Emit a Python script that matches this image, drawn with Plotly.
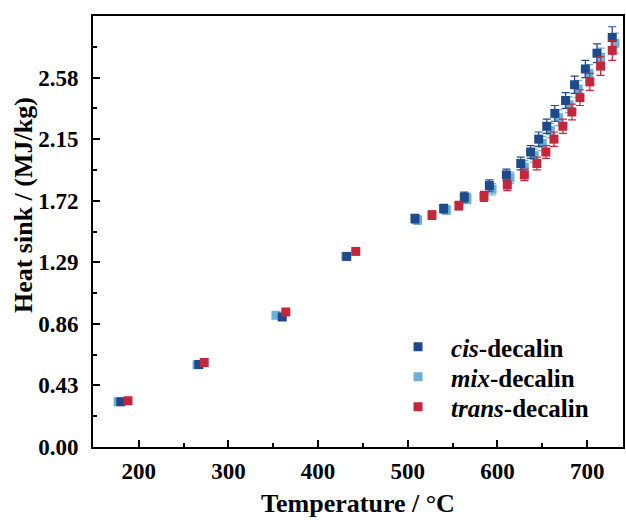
import plotly.graph_objects as go

# ---- data ----
cis_T = [180, 267, 360, 432, 508, 540, 563, 591, 610, 626, 637, 646, 655, 664, 676, 686, 698, 711, 728]
cis_H = [0.316, 0.576, 0.908, 1.331, 1.595, 1.665, 1.745, 1.826, 1.90, 1.98, 2.06, 2.15, 2.24, 2.33, 2.42, 2.53, 2.64, 2.75, 2.86]
cis_E = [0, 0, 0, 0, 0.03, 0.03, 0.035, 0.04, 0.04, 0.045, 0.045, 0.05, 0.05, 0.055, 0.055, 0.06, 0.06, 0.065, 0.075]

mix_T = [177, 265, 353, 431, 511, 543, 566, 594, 614, 630, 641, 650, 659, 668, 680, 690, 702, 715, 731]
mix_H = [0.316, 0.574, 0.92, 1.33, 1.585, 1.655, 1.735, 1.80, 1.88, 1.955, 2.035, 2.12, 2.21, 2.30, 2.39, 2.50, 2.61, 2.72, 2.82]
mix_E = [0, 0, 0, 0, 0.03, 0.03, 0.035, 0.04, 0.04, 0.045, 0.045, 0.05, 0.05, 0.055, 0.055, 0.06, 0.06, 0.065, 0.07]

trans_T = [188, 273, 364, 442, 527, 557, 585, 611, 630, 644, 654, 663, 673, 683, 692, 703, 715, 728]
trans_H = [0.323, 0.590, 0.943, 1.366, 1.62, 1.685, 1.75, 1.83, 1.90, 1.98, 2.06, 2.15, 2.24, 2.34, 2.44, 2.55, 2.66, 2.77]
trans_E = [0, 0, 0, 0, 0.03, 0.03, 0.035, 0.04, 0.04, 0.045, 0.045, 0.05, 0.05, 0.055, 0.055, 0.06, 0.065, 0.07]

y_ticks = [0.00, 0.43, 0.86, 1.29, 1.72, 2.15, 2.58]
x_ticks = [200, 300, 400, 500, 600, 700]

FONT = "Liberation Serif"
C_CIS = "#1c4a8a"
C_MIX = "#6cb0d8"
C_TRANS = "#c4263c"

fig = go.Figure()

def add(T, H, E, name, color, legend):
    fig.add_trace(go.Scatter(
        x=T, y=H, mode="markers", name=name, legend=legend,
        marker=dict(symbol="square", size=9, color=color, line=dict(width=0)),
        error_y=dict(type="data", array=E, visible=True, color=color,
                     thickness=1.2, width=4),
    ))

add(mix_T, mix_H, mix_E, "<i>mix</i>-decalin", C_MIX, "legend2")
add(cis_T, cis_H, cis_E, "<i>cis</i>-decalin", C_CIS, "legend")
add(trans_T, trans_H, trans_E, "<i>trans</i>-decalin", C_TRANS, "legend3")

tick_font = dict(family=FONT, size=23, color="black", weight="bold")
title_font = dict(family=FONT, size=26, color="black", weight="bold")
leg_font = dict(family=FONT, size=25, color="black", weight="bold")

def leg(y):
    return dict(x=0.551, y=y, xanchor="left", yanchor="middle", font=leg_font,
                bgcolor="rgba(0,0,0,0)", itemwidth=56, tracegroupgap=0)

fig.update_layout(
    width=626, height=520,
    margin=dict(l=93, r=1, t=16, b=73),
    paper_bgcolor="white", plot_bgcolor="white",
    font=dict(family=FONT, color="black"),
    showlegend=True,
    legend=leg(0.232), legend2=leg(0.1624), legend3=leg(0.0928),
    xaxis=dict(
        range=[149, 740], tickvals=x_ticks, ticks="inside", ticklen=7, tickwidth=1.5,
        tickcolor="black", showline=True, linecolor="black", linewidth=2, mirror=True,
        showgrid=False, zeroline=False, tickfont=tick_font, ticklabelstandoff=2,
        minor=dict(ticks="inside", ticklen=4, tickwidth=1.5, tickcolor="black", dtick=50, tick0=150, showgrid=False),
        title=dict(text="Temperature / °C", font=title_font, standoff=11),
    ),
    yaxis=dict(
        range=[0, 3.01], tickvals=y_ticks, tickformat=".2f", ticks="inside", ticklen=7, tickwidth=1.5,
        tickcolor="black", showline=True, linecolor="black", linewidth=2, mirror=True,
        showgrid=False, zeroline=False, tickfont=tick_font, ticklabelstandoff=8,
        minor=dict(ticks="inside", ticklen=4, tickwidth=1.5, tickcolor="black", dtick=0.43, tick0=0.215, showgrid=False),
    ),
    annotations=[dict(
        text="Heat sink / (MJ/kg)", textangle=-90, xref="paper", yref="paper",
        x=-0.13, y=0.5615, xanchor="center", yanchor="middle", showarrow=False,
        font=title_font,
    )],
)

fig.write_html("out.html", config={"displayModeBar": False},
               post_script="document.body.style.margin='0px';")
